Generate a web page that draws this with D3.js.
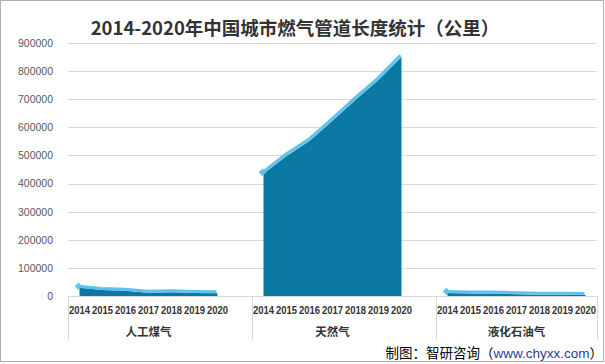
<!DOCTYPE html>
<html><head><meta charset="utf-8">
<script src="https://cdn.jsdelivr.net/npm/d3@7"></script>
<style>body{margin:0;background:#fff}svg{display:block}</style>
</head><body><svg id="c" width="605" height="364"></svg>
<script>
const title = "2014-2020年中国城市燃气管道长度统计（公里）";
const groups = ["人工煤气", "天然气", "液化石油气"];
const years = ["2014","2015","2016","2017","2018","2019","2020"];
const manufacturedGas = [29043, 21292, 18513, 11716, 13124, 10915, 9860];
const naturalGas = [434571, 498087, 551031, 623253, 698043, 767946, 850552];
const lpg = [10986, 9009, 8716, 6158, 4841, 4448, 3918];
const seriesValues = [manufacturedGas, naturalGas, lpg];
const yTicks = [0,100000,200000,300000,400000,500000,600000,700000,800000,900000];

const svg = d3.select("#c");
const L = 68, R = 597, T = 43, B = 296;

// band domain: 7 years per group plus a separator slot between groups
const slots = [];
groups.forEach((g, gi) => {
  years.forEach(y => slots.push(g + "|" + y));
  if (gi < groups.length - 1) slots.push("sep" + gi);
});
const x = d3.scaleBand().domain(slots).range([L, R]).padding(0);
const y = d3.scaleLinear().domain([0, 900000]).range([B, T]);

// border
svg.append("rect").attr("x",0.5).attr("y",0.5).attr("width",603).attr("height",361)
  .attr("fill","none").attr("stroke","#b0b0b0");

// title
svg.append("text").attr("x",295).attr("y",35).attr("text-anchor","middle")
  .attr("font-family","'Noto Sans CJK SC', sans-serif").attr("font-weight","bold")
  .attr("font-size","18.5px").attr("fill","#333").text(title);

// gridlines
svg.append("g").selectAll("line").data(yTicks.filter(d=>d>0)).join("line")
  .attr("x1",L).attr("x2",R).attr("y1",d=>Math.round(y(d))+0.5).attr("y2",d=>Math.round(y(d))+0.5)
  .attr("stroke","#d9d9d9").attr("stroke-width",1);

// y axis labels
const yAxis = d3.axisLeft(y).tickValues(yTicks).tickSize(0).tickPadding(0).tickFormat(d3.format("d"));
const gy = svg.append("g").attr("transform",`translate(53,0)`).call(yAxis);
gy.select(".domain").remove();
gy.selectAll("text").attr("font-family","'Liberation Sans', Arial, sans-serif")
  .attr("font-size","10.5px").attr("fill","#595959");

// areas
const cx = k => x(k) + x.bandwidth()/2;
groups.forEach((g, gi) => {
  const pts = years.map((yr, i) => ({k: g + "|" + yr, v: seriesValues[gi][i]}));
  const area = d3.area().x(d=>cx(d.k)).y0(y(0)).y1(d=>y(d.v));
  svg.append("path").datum(pts).attr("d", area).attr("fill","#0b79a3");
  const line = d3.line().x(d=>cx(d.k)-1).y(d=>y(d.v)-1.5);
  svg.append("path").datum(pts).attr("d", line).attr("fill","none")
    .attr("stroke","#5cc3ee").attr("stroke-width",3);
  const p0 = pts[0];
  svg.append("path").attr("d", d3.symbol(d3.symbolDiamond2, 36)())
    .attr("transform",`translate(${cx(p0.k)-1},${y(p0.v)-1.5})`).attr("fill","#5cc3ee");
});

// x baseline
svg.append("line").attr("x1",L).attr("x2",R).attr("y1",B+0.5).attr("y2",B+0.5)
  .attr("stroke","#d9d9d9");

// group separators
const bounds = [L, x("sep0")+x.bandwidth(), x("sep1")+x.bandwidth(), R];
svg.append("g").selectAll("line").data(bounds).join("line")
  .attr("x1",d=>Math.round(d)+0.5).attr("x2",d=>Math.round(d)+0.5).attr("y1",B).attr("y2",340)
  .attr("stroke","#d9d9d9");

// x tick labels
const xAxis = d3.axisBottom(x).tickValues(slots.filter(s=>!s.startsWith("sep")))
  .tickSize(0).tickPadding(0).tickFormat(s=>s.split("|")[1]);
const gx = svg.append("g").attr("transform",`translate(0,${B+11})`).call(xAxis);
gx.select(".domain").remove();
gx.selectAll("text").attr("font-family","'Liberation Sans', Arial, sans-serif")
  .attr("font-weight","bold").attr("font-size","10.5px").attr("fill","#333")
  .attr("textLength", 21).attr("lengthAdjust","spacingAndGlyphs");

// group labels
svg.append("g").selectAll("text").data(groups).join("text")
  .attr("x", g => (x(g+"|2014") + x(g+"|2020") + x.bandwidth())/2)
  .attr("y", 335.5).attr("text-anchor","middle")
  .attr("font-family","'Noto Sans CJK SC', sans-serif").attr("font-weight","bold")
  .attr("font-size","11.5px").attr("fill","#333").text(d=>d);

// source
const src = svg.append("text").attr("x",603).attr("y",358).attr("text-anchor","end")
  .attr("font-family","'Noto Sans CJK SC', sans-serif").attr("font-size","13.5px").attr("fill","#000");
src.append("tspan").text("制图：智研咨询（");
src.append("tspan").attr("fill","#1f3d8f").attr("font-family","'Liberation Sans', Arial, sans-serif").text("www.chyxx.com");
src.append("tspan").text("）");
</script></body></html>
